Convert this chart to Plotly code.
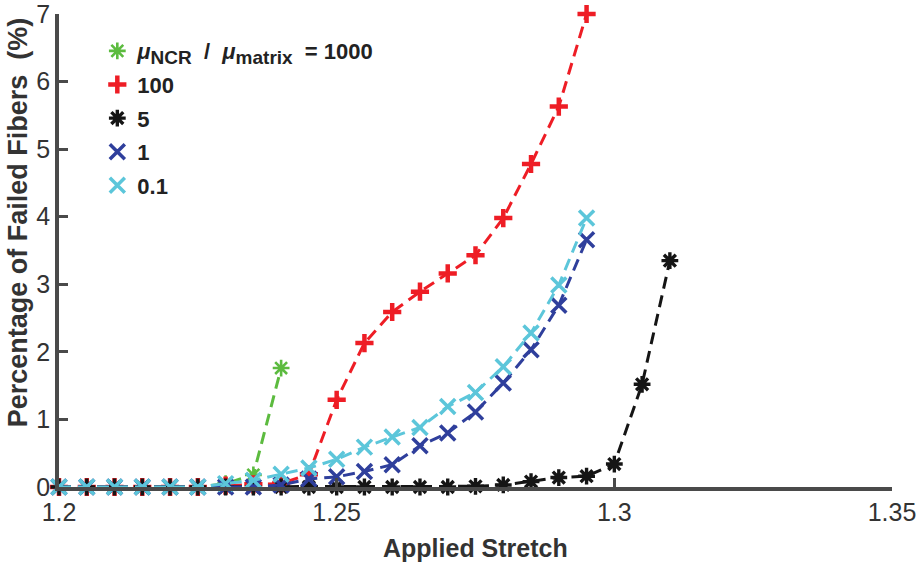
import plotly.graph_objects as go

stretch = [1.200, 1.205, 1.210, 1.215, 1.220, 1.225, 1.230, 1.235, 1.240, 1.245,
           1.250, 1.255, 1.260, 1.265, 1.270, 1.275, 1.280, 1.285, 1.290, 1.295,
           1.300, 1.305, 1.310]

ratio_1000 = [0, 0, 0, 0, 0, 0, 0.05, 0.18, 1.76]
ratio_100 = [0, 0, 0, 0, 0, 0, 0.02, 0.04, 0.05, 0.19,
             1.29, 2.13, 2.59, 2.89, 3.16, 3.43, 3.98, 4.78, 5.63, 7.0]
ratio_5 = [0, 0, 0, 0, 0, 0, 0, 0, 0, 0,
           0, 0, 0, 0, 0, 0.01, 0.03, 0.08, 0.14, 0.16,
           0.34, 1.52, 3.35]
ratio_1 = [0, 0, 0, 0, 0, 0, 0, 0, 0.03, 0.12,
           0.15, 0.23, 0.33, 0.61, 0.80, 1.11, 1.54, 2.03, 2.69, 3.66]
ratio_01 = [0, 0, 0, 0, 0, 0, 0.05, 0.10, 0.19, 0.28,
            0.41, 0.59, 0.74, 0.88, 1.19, 1.40, 1.78, 2.28, 2.99, 3.98]

x_ticks = [1.2, 1.25, 1.3, 1.35]
x_tick_text = ["1.2", "1.25", "1.3", "1.35"]
y_ticks = [0, 1, 2, 3, 4, 5, 6, 7]

sp = "\u00a0"
sub = '<sub><span style="font-size:19px">{}</span></sub>'
label_1000 = ("<i>μ</i>" + sub.format("NCR") + sp + sp + "/" + sp + sp + "<i>μ</i>" + sub.format("matrix")
              + sp + sp + "=" + sp + "1000")

series = [
    (label_1000, ratio_1000, "#5cbb3f", "asterisk-open", 14, 2.6),
    ("100", ratio_100, "#ee1d25", "cross-thin-open", 13, 4.5),
    ("5", ratio_5, "#151515", "asterisk-open", 14, 3.4),
    ("1", ratio_1, "#2f3f9c", "x-thin-open", 15, 3.5),
    ("0.1", ratio_01, "#5cc6da", "x-thin-open", 15, 3.5),
]

fig = go.Figure()
for i, (name, vals, color, sym, size, lw) in enumerate(series):
    xs = stretch[:len(vals)]
    grp = "g%d" % i
    fig.add_trace(go.Scatter(
        x=xs, y=vals, mode="lines", showlegend=False, hoverinfo="skip",
        legendgroup=grp,
        line=dict(color=color, width=3, dash="12px,7px"), cliponaxis=False))
    fig.add_trace(go.Scatter(
        x=xs, y=vals, mode="markers", name=name, cliponaxis=False,
        legendgroup=grp,
        marker=dict(symbol=sym, size=size, color=color,
                    line=dict(color=color, width=lw))))

axis_color = "#4a4a4a"
text_color = "#333333"

fig.update_layout(
    width=917, height=566,
    margin=dict(l=59, r=25, t=14, b=79),
    plot_bgcolor="white", paper_bgcolor="white",
    font=dict(family="Liberation Sans, Arial, sans-serif", color=text_color),
    showlegend=True,
    legend=dict(
        x=0.046, y=0.966, xanchor="left", yanchor="top",
        bgcolor="rgba(0,0,0,0)",
        font=dict(size=22, color="#222222", weight="bold"),
        itemsizing="trace", tracegroupgap=2,
    ),
    xaxis=dict(
        range=[1.2, 1.35], tickvals=x_ticks, ticktext=x_tick_text,
        showline=True, linecolor=axis_color, linewidth=3.5,
        ticks="inside", ticklen=9, tickwidth=3, tickcolor=axis_color,
        showgrid=False, zeroline=False, automargin=False,
        ticklabeloverflow="allow",
        tickfont=dict(size=25, color=text_color),
    ),
    yaxis=dict(
        range=[0, 7], tickvals=y_ticks,
        showline=True, linecolor=axis_color, linewidth=3.5,
        ticks="inside", ticklen=9, tickwidth=3, tickcolor=axis_color,
        showgrid=False, zeroline=False, automargin=False,
        ticklabeloverflow="allow",
        tickfont=dict(size=25, color=text_color),
    ),
    annotations=[
        dict(text="<b>Applied Stretch</b>", xref="paper", yref="paper",
             x=0.5, y=-0.129, xanchor="center", yanchor="middle",
             showarrow=False, font=dict(size=25, color=text_color)),
        dict(text="<b>Percentage of Failed Fibers  (%)</b>", xref="paper", yref="paper",
             x=-0.049, y=0.56, xanchor="center", yanchor="middle", textangle=-90,
             showarrow=False, font=dict(size=27, color=text_color)),
    ],
)

fig.write_html("out.html", config={"displayModeBar": False},
               post_script="document.body.style.margin='0';")
